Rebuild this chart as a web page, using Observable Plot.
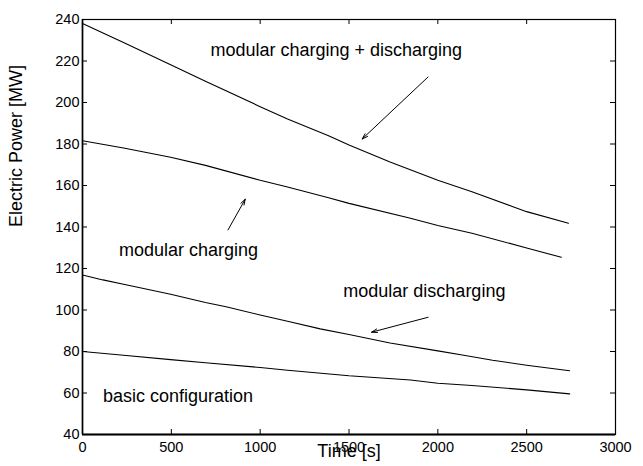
<!DOCTYPE html>
<html>
<head>
<meta charset="utf-8">
<script src="https://cdn.jsdelivr.net/npm/d3@7"></script>
<script src="https://cdn.jsdelivr.net/npm/@observablehq/plot@0.6"></script>
<style>
  html, body { margin: 0; padding: 0; background: #fff; }
  #chart svg { display: block; }
</style>
</head>
<body>
<div id="chart"></div>
<script>
// Series: time [s] and electric power [MW]
const tBoth = [0, 231, 496, 692, 1000, 1154, 1385, 1500, 1731, 2000, 2192, 2423, 2500, 2735];
const pBoth = [238.1, 228.9, 218.2, 210.2, 198.0, 192.0, 184.0, 179.5, 171.3, 162.5, 157.0, 149.8, 147.4, 141.8];

const tCharging = [0, 231, 496, 692, 1000, 1154, 1385, 1500, 1846, 2000, 2192, 2500, 2695];
const pCharging = [181.6, 178.1, 173.6, 169.7, 162.5, 159.3, 154.1, 151.4, 144.2, 140.7, 137.0, 129.9, 125.4];

const tDischarging = [0, 115, 231, 496, 692, 808, 1000, 1154, 1338, 1500, 1731, 2000, 2146, 2308, 2500, 2742];
const pDischarging = [116.9, 114.5, 112.4, 107.6, 103.6, 101.6, 97.6, 94.6, 90.9, 88.2, 84.1, 80.3, 78.2, 75.8, 73.4, 70.7];

const tBasic = [0, 231, 496, 692, 1000, 1154, 1500, 1846, 2000, 2192, 2500, 2742];
const pBasic = [80.0, 78.2, 76.1, 74.6, 72.3, 71.0, 68.3, 66.3, 64.7, 63.6, 61.5, 59.6];

// Annotations
const labelText = ["modular charging + discharging", "modular charging", "modular discharging", "basic configuration"];
const labelT = [720, 205, 1468, 115];
const labelP = [225, 128.7, 109.2, 58.3];

const arrowT1 = [1945, 819, 1945];
const arrowP1 = [212.3, 138.6, 96.5];
const arrowT2 = [1574, 916, 1627];
const arrowP2 = [182.4, 153.4, 89.3];

const xTicks = [0, 500, 1000, 1500, 2000, 2500, 3000];
const yTicks = [40, 60, 80, 100, 120, 140, 160, 180, 200, 220, 240];

const toRows = (ts, ps) => ts.map((t, i) => ({t, p: ps[i]}));
const series = [toRows(tBoth, pBoth), toRows(tCharging, pCharging), toRows(tDischarging, pDischarging), toRows(tBasic, pBasic)];
const labels = labelText.map((s, i) => ({s, t: labelT[i], p: labelP[i]}));
const arrows = arrowT1.map((t, i) => ({x1: t, y1: arrowP1[i], x2: arrowT2[i], y2: arrowP2[i]}));

const font = "'Liberation Sans', Arial, Helvetica, sans-serif";

const W = 643, H = 466, mL = 82, mR = 28, mT = 19, mB = 32;
const fw = W - mL - mR, fh = H - mT - mB, L = 5;

const chart = Plot.plot({
  width: W,
  height: H,
  marginLeft: mL,
  marginRight: mR,
  marginTop: mT,
  marginBottom: mB,
  style: {fontFamily: font, color: "#000", background: "#fff"},
  x: {domain: [0, 3000], ticks: xTicks},
  y: {domain: [40, 240], ticks: yTicks},
  marks: [
    Plot.frame({stroke: "#000", strokeWidth: 1.2}),
    Plot.ruleY([40], {stroke: "#000", strokeWidth: 2}),
    Plot.ruleX([0], {stroke: "#000", strokeWidth: 1.6}),
    Plot.axisX(xTicks, {anchor: "bottom", tickSize: 0, tickPadding: 7, fontSize: 14.5, label: null, tickFormat: d => String(d)}),
    Plot.axisY(yTicks, {anchor: "left", tickSize: 0, tickPadding: 3, fontSize: 14.5, label: null, tickFormat: d => String(d)}),
    // inward ticks on all four sides
    Plot.ruleX(xTicks, {x: d => d, y1: 240, y2: 40, insetTop: fh - L, stroke: "#000", strokeWidth: 1}),
    Plot.ruleX(xTicks, {x: d => d, y1: 240, y2: 40, insetBottom: fh - L, stroke: "#000", strokeWidth: 1}),
    Plot.ruleY(yTicks, {y: d => d, x1: 0, x2: 3000, insetRight: fw - L, stroke: "#000", strokeWidth: 1}),
    Plot.ruleY(yTicks, {y: d => d, x1: 0, x2: 3000, insetLeft: fw - L, stroke: "#000", strokeWidth: 1}),
    ...series.map(d => Plot.line(d, {x: "t", y: "p", stroke: "#000", strokeWidth: 1.1})),
    Plot.arrow(arrows, {x1: "x1", y1: "y1", x2: "x2", y2: "y2", stroke: "#000", strokeWidth: 1, headLength: 9, headAngle: 35}),
    Plot.text(labels, {x: "t", y: "p", text: "s", textAnchor: "start", fontSize: 18, fill: "#000"}),
    Plot.text(["Time [s]"], {frameAnchor: "bottom", dy: 22, fontSize: 18, fill: "#000"}),
    Plot.text(["Electric Power [MW]"], {frameAnchor: "left", dx: -66, rotate: -90, fontSize: 18, fill: "#000"})
  ]
});
document.getElementById("chart").appendChild(chart);
</script>
</body>
</html>
